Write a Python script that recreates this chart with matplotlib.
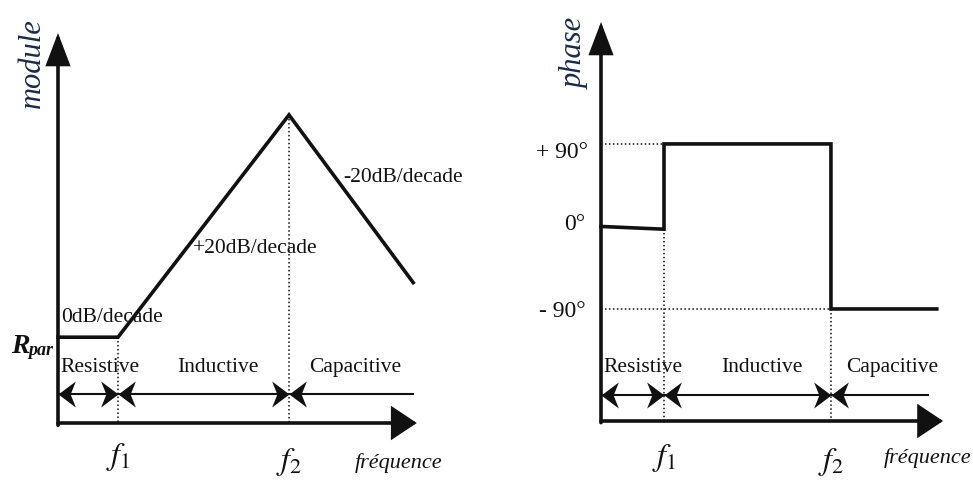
import matplotlib
matplotlib.use("Agg")
import matplotlib.pyplot as plt
from matplotlib.path import Path

plt.rcParams['font.family'] = ['Liberation Serif', 'DejaVu Serif']
plt.rcParams['mathtext.fontset'] = 'stix'

# ---------------- data ----------------
# magnitude (module) asymptotes: log-frequency position (decades) vs dB relative to R_par
module_freq = [0, 1, 3.85, 5.92]
module_db = [0, 0, 57, 14]
slope_labels = ["0dB/decade", "+20dB/decade", "-20dB/decade"]
region_labels = ["Resistive", "Inductive", "Capacitive"]
# phase asymptotes
phase_freq = [0, 1, 1, 3.65, 3.65, 5.33]
phase_deg = [0, -3, 90, 90, -90, -90]
phase_ticks = [90, 0, -90]
phase_tick_labels = ["+ 90°", "0°", "- 90°"]
freq_labels = [r"$f_1$", r"$f_2$"]
module_f1, module_f2 = module_freq[1], module_freq[2]
phase_f1, phase_f2 = phase_freq[1], phase_freq[3]

W, H = 973, 482
fig = plt.figure(figsize=(W / 100, H / 100), dpi=100)
fig.patch.set_facecolor('white')


def px_axes(x0, x1, ytop, ybot, xlim, ylim):
    ax = fig.add_axes([x0 / W, 1 - ybot / H, (x1 - x0) / W, (ybot - ytop) / H])
    ax.set_xlim(*xlim)
    ax.set_ylim(*ylim)
    ax.axis('off')
    return ax


axL = px_axes(58, 418, 33, 423, (0, 6), (-22, 78))
axR = px_axes(601, 601 + 63 * 5.6, 22, 421, (0, 5.6), (-212.2, 223))

K = '#111111'
LW = 2.6
DOT = dict(ls=(0, (1, 1.6)), lw=1.1, color=K, clip_on=False)
LABFS = 15.5

stealth_r = Path([(0, 0), (-1, 0.75), (-0.7, 0), (-1, -0.75), (0, 0)],
                 [Path.MOVETO, Path.LINETO, Path.LINETO, Path.LINETO, Path.CLOSEPOLY])
stealth_l = Path([(0, 0), (1, 0.75), (0.7, 0), (1, -0.75), (0, 0)],
                 [Path.MOVETO, Path.LINETO, Path.LINETO, Path.LINETO, Path.CLOSEPOLY])


def axis_arrow(ax, start, end, hl, hw):
    ax.annotate("", xy=end, xytext=start, annotation_clip=False,
                arrowprops=dict(arrowstyle=f"-|>,head_length={hl},head_width={hw}",
                                lw=LW, color=K, shrinkA=0, shrinkB=0,
                                mutation_scale=10, joinstyle='miter'))


def regions(ax, bounds, yline, ylab, xlabs, fs):
    ax.plot([bounds[0], bounds[3]], [yline, yline], lw=1.5, color=K, clip_on=False)
    for x, mk in [(bounds[0], stealth_l), (bounds[1], stealth_r), (bounds[1], stealth_l),
                  (bounds[2], stealth_r), (bounds[2], stealth_l)]:
        ax.plot([x], [yline], marker=mk, ms=25, color=K, mew=0, clip_on=False)
    for xl, lab in zip(xlabs, region_labels):
        ax.text(xl, ylab, lab, ha='center', va='center', fontsize=fs, color=K)


# ---------------- left: module ----------------
ax = axL
axis_arrow(ax, (0, -22.6), (0, 78), 1.9, 0.72)
axis_arrow(ax, (0, -22), (5.98, -22), 1.5, 1.0)
ax.plot(module_freq, module_db, lw=LW, color=K, solid_joinstyle='miter', clip_on=False)
ax.plot([module_f1, module_f1], [0, -22], **DOT)
ax.plot([module_f2, module_f2], [module_db[2], -22], **DOT)
regions(ax, [0, module_f1, module_f2, 5.92], -14.6, -7.7, [0.7, 2.67, 4.95], LABFS)
ax.text(0.9, 5.1, slope_labels[0], ha='center', va='center', fontsize=LABFS, color=K)
ax.text(3.28, 22.8, slope_labels[1], ha='center', va='center', fontsize=LABFS, color=K)
ax.text(5.75, 41, slope_labels[2], ha='center', va='center', fontsize=LABFS, color=K)
ax.text(-0.43, 70.3, "module", rotation=90, ha='center', va='center', fontsize=22,
        style='italic', color='#1c2a4a')
ax.text(-0.78, -4.1, "R", ha='left', va='baseline', fontsize=20, style='italic',
        weight='bold', color=K)
ax.text(-0.5, -4.6, "par", ha='left', va='baseline', fontsize=13, style='italic',
        weight='bold', color=K)
ax.text(module_f1, -30.8, freq_labels[0], ha='center', va='center', fontsize=23, color=K)
ax.text(module_f2, -32, freq_labels[1], ha='center', va='center', fontsize=23, color=K)
ax.text(5.67, -32.3, "fréquence", ha='center', va='center', fontsize=16,
        style='italic', color=K)

# ---------------- right: phase ----------------
ax = axR
axis_arrow(ax, (0, -214), (0, 223), 1.9, 0.72)
axis_arrow(ax, (0, -212.2), (5.43, -212.2), 1.5, 1.0)
ax.plot(phase_freq, phase_deg, lw=LW, color=K, solid_joinstyle='miter', clip_on=False)
ax.plot([0, phase_f1], [90, 90], **DOT)
ax.plot([0, phase_f2], [-90, -90], **DOT)
ax.plot([phase_f1, phase_f1], [phase_deg[1], -212.2], **DOT)
ax.plot([phase_f2, phase_f2], [-90, -212.2], **DOT)
regions(ax, [0, phase_f1, phase_f2, 5.19], -183.8, -154, [0.67, 2.56, 4.62], LABFS)
tick_x = [-0.62, -0.41, -0.62]
tick_dy = [-9, 1.6, -3]
for v, lab, tx, dy in zip(phase_ticks, phase_tick_labels, tick_x, tick_dy):
    ax.text(tx, v + dy, lab, ha='center', va='center', fontsize=17, color=K)
ax.text(-0.41, 189, "phase", rotation=90, ha='center', va='center', fontsize=22,
        style='italic', color='#1c2a4a')
ax.text(phase_f1, -252.5, freq_labels[0], ha='center', va='center', fontsize=23, color=K)
ax.text(phase_f2, -257, freq_labels[1], ha='center', va='center', fontsize=23, color=K)
ax.text(5.19, -252.5, "fréquence", ha='center', va='center', fontsize=16,
        style='italic', color=K)

fig.savefig("out.png", dpi=100, facecolor='white')
